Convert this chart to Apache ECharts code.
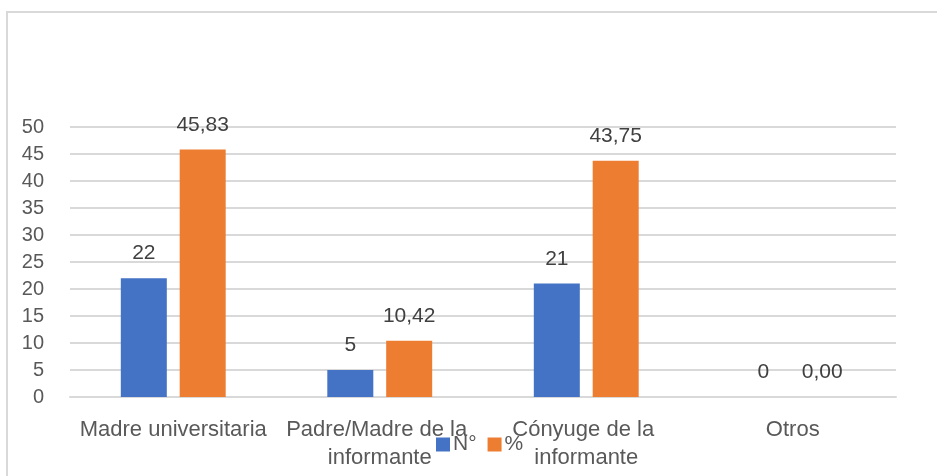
<!DOCTYPE html>
<html>
<head>
<meta charset="utf-8">
<script src="https://cdn.jsdelivr.net/npm/echarts@6/dist/echarts.min.js"></script>
<style>
  html, body { margin: 0; padding: 0; background: #fff; }
  #chart { width: 937px; height: 476px; }
</style>
</head>
<body>
<div id="chart"></div>
<script>
// datos
const categorias = ['Madre universitaria', 'Padre/Madre de la informante', 'Cónyuge de la informante', 'Otros'];
const serieN = [22, 5, 21, 0];
const seriePct = [45.83, 10.42, 43.75, 0.00];
const nombres = ['N°', '%'];
const ticksY = [0, 5, 10, 15, 20, 25, 30, 35, 40, 45, 50];

const fuente = 'Liberation Sans';
const gris = '#595959';

const chart = echarts.init(document.getElementById('chart'));
chart.setOption({
  animation: false,
  textStyle: { fontFamily: fuente },
  graphic: [{ // borde del area del grafico
    type: 'rect',
    shape: { x: 7, y: 12, width: 940, height: 480 },
    style: { fill: 'none', stroke: '#d9d9d9', lineWidth: 2 },
    silent: true
  }],
  grid: { left: 70, right: 41, top: 127, bottom: 79 },
  legend: {
    data: nombres,
    left: 436,
    top: 434,
    padding: 0,
    itemWidth: 14,
    itemHeight: 14,
    itemGap: 11,
    icon: 'rect',
    z: 10,
    textStyle: { fontSize: 21, color: gris, padding: [0, 0, 0, -2] }
  },
  xAxis: {
    type: 'category',
    data: categorias,
    axisLine: { lineStyle: { color: '#d9d9d9', width: 2 } },
    axisTick: { show: false },
    axisLabel: {
      fontSize: 22, color: gris, margin: 19, lineHeight: 28,
      interval: 0, width: 204, overflow: 'break'
    }
  },
  yAxis: {
    type: 'value',
    min: ticksY[0],
    max: ticksY[ticksY.length - 1],
    interval: 5,
    axisLine: { show: false },
    axisTick: { show: false },
    splitLine: { lineStyle: { color: '#d9d9d9', width: 2 } },
    axisLabel: { fontSize: 20, color: gris, margin: 26 }
  },
  series: [
    {
      name: nombres[0],
      type: 'bar',
      data: serieN,
      barWidth: 46,
      barGap: '28%',
      itemStyle: { color: '#4472c4' },
      label: {
        show: true, position: 'top', distance: 14,
        fontSize: 21, color: '#404040'
      }
    },
    {
      name: nombres[1],
      type: 'bar',
      data: seriePct,
      barWidth: 46,
      itemStyle: { color: '#ed7d31' },
      label: {
        show: true, position: 'top', distance: 14,
        fontSize: 21, color: '#404040',
        formatter: p => p.value.toFixed(2).replace('.', ',')
      }
    }
  ]
});
</script>
</body>
</html>
